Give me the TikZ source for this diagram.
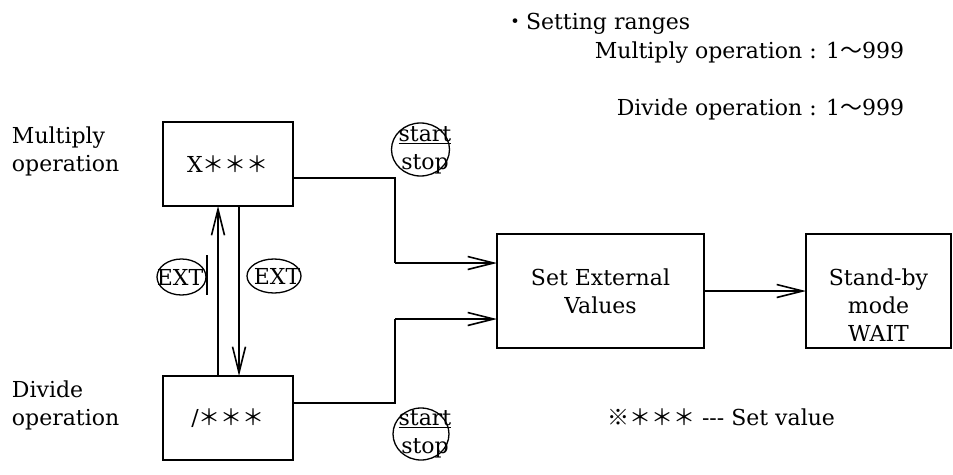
\documentclass[tikz,border=0pt]{standalone}
\usepackage{fontspec}
\setmainfont{DejaVu Serif}
\newfontfamily\cjk{Noto Sans CJK JP}
\usetikzlibrary{arrows.meta,shapes.geometric,calc}
\begin{document}
\begin{tikzpicture}[x=1pt,y=-1pt,
  every node/.style={font=\fontsize{22}{28}\selectfont, inner sep=0pt, outer sep=0pt},
  box/.style={draw, line width=2.6pt, rectangle},
  bubble/.style={draw, ellipse, line width=1.3pt, inner sep=0pt},
  conn/.style={line width=1.8pt},
  arr/.style={line width=1.6pt, -{Straight Barb[length=26pt,width=13pt,line width=1.6pt]}},
  txt/.style={align=left}]
\useasboundingbox (0,0) rectangle (953,474);

% boxes
\node[box, minimum width=130pt, minimum height=84pt] (mul) at (228,164) {X{\cjk ＊＊＊}};
\node[box, minimum width=130pt, minimum height=84pt] (div) at (228,418) {/{\cjk ＊＊＊}};
\node[box, minimum width=207pt, minimum height=114pt, align=center] (set) at (600.5,291) {Set External\\Values};
\node[box, minimum width=145pt, minimum height=114pt] (sb) at (878.5,291) {};
\node[align=center] (sbt) at (878.5,305) {Stand-by\\mode\\WAIT};

% left labels
\node[anchor=base west, align=left] (ml1) at (12,143) {Multiply};
\node[anchor=base west, align=left] (ml2) at (12,171) {operation};
\node[anchor=base west, align=left] (dl1) at (12,397) {Divide};
\node[anchor=base west, align=left] (dl2) at (12,425) {operation};

% setting ranges
\node[anchor=base west] (sr) at (504,29) {{\cjk ・}Setting ranges};
\node[anchor=base east] (mr) at (904,58) {Multiply operation : 1{\cjk ～}999};
\node[anchor=base east] (dr) at (904,115) {Divide operation : 1{\cjk ～}999};
\node[anchor=base west] (sv) at (607,425) {{\cjk ※＊＊＊} -{}-{}- Set value};

% start/stop bubbles
\node[bubble, minimum width=58pt, minimum height=53pt] (ss1) at (420.5,149.5) {};
\node[align=center] (ss1t) at (425,150) {\underline{start}\\stop};
\node[bubble, minimum width=56pt, minimum height=52pt] (ss2) at (421,434) {};
\node[align=center] (ss2t) at (425,434) {\underline{start}\\stop};

% EXT bubbles
\node[bubble, minimum width=49pt, minimum height=36pt] (e1) at (181.5,277) {};
\node (e1t) at (180,277) {EXT};
\node[bubble, minimum width=54pt, minimum height=34pt] (e2) at (274,276) {};
\node (e2t) at (277,276) {EXT};
\draw[line width=1.3pt] (207,255) -- (207,295);

% connectors
\coordinate (j1) at (395,263);
\coordinate (j2) at (395,319);
\draw[conn] ([yshift=-14pt]mul.east) -| (j1);
\draw[arr] (j1) -- (j1 -| set.west);
\draw[conn] ([yshift=15pt]div.east) -| (j2);
\draw[arr] (j2) -- (j2 -| set.west);
\draw[arr] (set.east) -- (sb.west |- set.east);
\draw[arr] ([xshift=-10pt]div.north) -- ([xshift=-10pt]mul.south);
\draw[arr] ([xshift=11pt]mul.south) -- ([xshift=11pt]div.north);
\end{tikzpicture}
\end{document}
